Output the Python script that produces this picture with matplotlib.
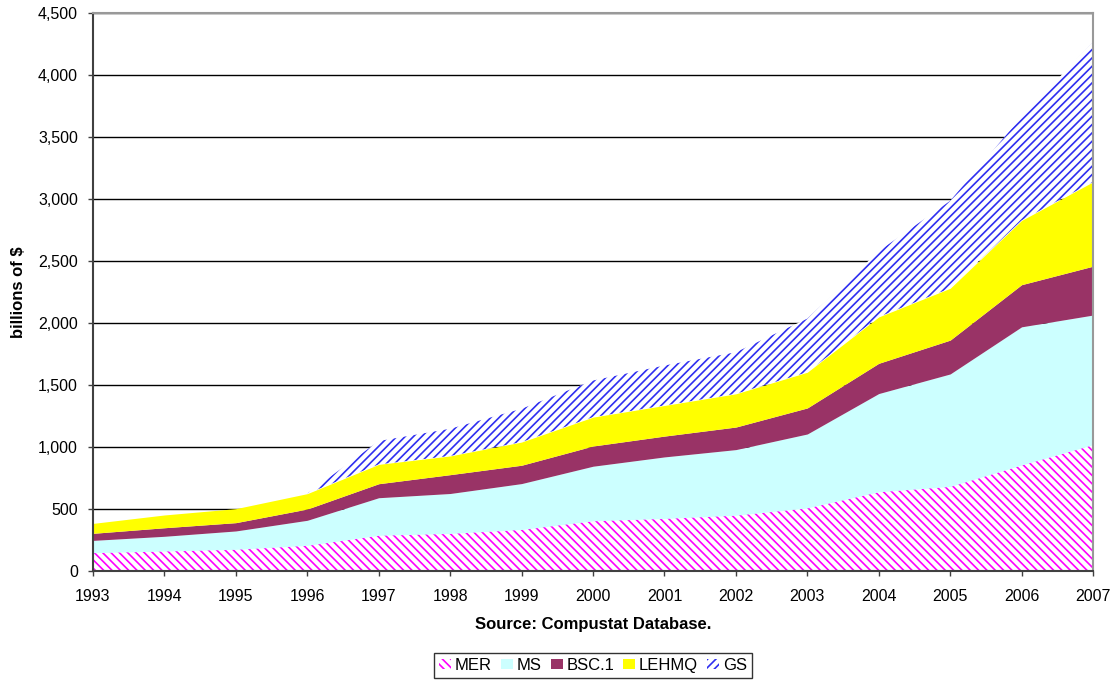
import matplotlib
matplotlib.use("Agg")
import matplotlib.pyplot as plt
import numpy as np
from matplotlib.patches import Patch

plt.rcParams['font.family'] = ['Liberation Sans', 'DejaVu Sans']
plt.rcParams['hatch.linewidth'] = 1.2

years = list(range(1993, 2008))

# values in billions of $
mer = [148, 161, 175, 207, 288, 303, 335, 405, 424, 450, 509, 639, 682, 855, 1019]
ms = [99, 119, 148, 202, 303, 322, 370, 440, 496, 529, 596, 792, 907, 1114, 1045]
bsc = [57, 69, 67, 91, 113, 152, 148, 163, 168, 182, 210, 244, 273, 340, 394]
lehmq = [80, 103, 113, 124, 156, 151, 187, 233, 247, 268, 288, 374, 418, 518, 680]
gs = [0, 0, 0, 0, 188, 219, 268, 295, 322, 335, 432, 530, 705, 835, 1128]

names = ['MER', 'MS', 'BSC.1', 'LEHMQ', 'GS']
series = [mer, ms, bsc, lehmq, gs]
# (face, hatch colour, hatch)
styles = [('white', '#FF00FF', '\\\\\\\\'),
          ('#CCFFFF', '#CCFFFF', None),
          ('#993366', '#993366', None),
          ('#FFFF00', '#FFFF00', None),
          ('white', '#2E2EF0', '////')]

fig = plt.figure(figsize=(11.19, 6.81), dpi=100)
ax = fig.add_axes([0.0831, 0.1615, 0.8937, 0.8195])

ax.set_axisbelow(True)
ax.yaxis.grid(True, color='black', linewidth=1)

bottom = np.zeros(len(years))
handles = []
for name, vals, (fc, ec, h) in zip(names, series, styles):
    top = bottom + np.array(vals)
    ax.fill_between(years, bottom, top, facecolor=fc, edgecolor=ec,
                    hatch=h, linewidth=0, zorder=2)
    handles.append(Patch(facecolor=fc, edgecolor=ec, hatch=h, linewidth=0, label=name))
    bottom = top

ax.set_xlim(1993, 2007)
ax.set_ylim(0, 4500)
ax.set_xticks(years)
ax.set_yticks(np.arange(0, 4501, 500))
ax.set_yticklabels([f'{v:,}' for v in range(0, 4501, 500)])
ax.tick_params(axis='both', labelsize=11.5, length=3.6, width=1, color='#404040', direction='out')
ax.tick_params(axis='x', pad=9.4)
ax.tick_params(axis='y', pad=7.2)

for s in ['left', 'bottom']:
    ax.spines[s].set_color('#404040')
    ax.spines[s].set_linewidth(1.5)
for s in ['top', 'right']:
    ax.spines[s].set_color('#999999')
    ax.spines[s].set_linewidth(1.5)

ax.set_ylabel('billions of $', fontsize=12, fontweight='bold')
ax.yaxis.set_label_coords(-0.0665, 0.5)
ax.set_xlabel('Source: Compustat Database.', fontsize=12, fontweight='bold')
ax.xaxis.set_label_coords(0.5, -0.0824)

# legend sits centred under the plot area, not the figure
leg = fig.legend(handles=handles, loc='center', bbox_to_anchor=(593 / 1119, 1 - 665.5 / 681), ncol=5,
                 fontsize=12, frameon=True, fancybox=False, edgecolor='black',
                 handlelength=0.72, handleheight=0.6, handletextpad=0.22,
                 columnspacing=0.55, borderpad=0.28, borderaxespad=0)
leg.get_frame().set_linewidth(1)

fig.savefig('out.png', dpi=100)
